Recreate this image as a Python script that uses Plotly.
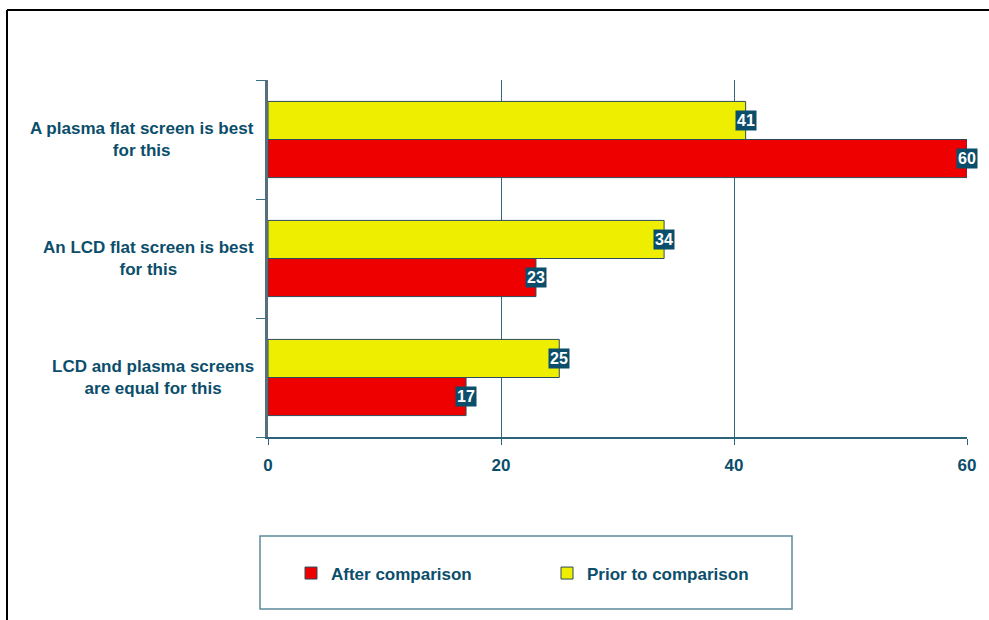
import plotly.graph_objects as go

# ---- data (top-to-bottom as shown in the chart) ----
categories = [
    "A plasma flat screen is best<br>for this",
    "An LCD flat screen is best<br>for this",
    "LCD and plasma screens<br>are equal for this",
]
after_comparison = [60, 23, 17]
prior_to_comparison = [41, 34, 25]
x_ticks = [0, 20, 40, 60]
series_names = ["After comparison", "Prior to comparison"]

# ---- layout geometry (pixels) ----
W, H = 989, 620
L, R, T, B = 268, 967, 80, 437
TEXT = "#0B4E6B"
FONT = "Liberation Sans, Arial, sans-serif"


def px_x(px):
    return (px - L) / (R - L)


def px_y(py):
    return (B - py) / (B - T)


cats = categories[::-1]
after = after_comparison[::-1]
prior = prior_to_comparison[::-1]

BARGAP = 0.36
bw = (1 - BARGAP) / 2

fig = go.Figure()
fig.add_trace(go.Bar(
    y=cats, x=after, orientation="h", name=series_names[0],
    marker=dict(color="#EE0000", line=dict(color="#2E4A5A", width=1)),
))
fig.add_trace(go.Bar(
    y=cats, x=prior, orientation="h", name=series_names[1],
    marker=dict(color="#EEEE00", line=dict(color="#2E4A5A", width=1)),
))

annotations = []
# data labels
for i, (a, p) in enumerate(zip(after, prior)):
    for val, off in ((a, -bw / 2), (p, bw / 2)):
        annotations.append(dict(
            x=val, y=i + off, xref="x", yref="y", text=str(val),
            showarrow=False, xanchor="center", yanchor="middle",
            font=dict(family=FONT, size=16, color="white", weight="bold"),
            bgcolor=TEXT, borderpad=1,
        ))
# category labels (centered multi-line)
for c in cats:
    annotations.append(dict(
        x=px_x(256), y=c, xref="paper", yref="y", text=c,
        showarrow=False, xanchor="right", yanchor="middle", align="center",
        font=dict(family=FONT, size=17, color=TEXT, weight="bold"),
    ))

shapes = [
    # outer black frame (top and left edges visible)
    dict(type="line", xref="paper", yref="paper",
         x0=px_x(7), x1=px_x(1000), y0=px_y(10), y1=px_y(10),
         line=dict(color="black", width=2)),
    dict(type="line", xref="paper", yref="paper",
         x0=px_x(7), x1=px_x(7), y0=px_y(10), y1=px_y(630),
         line=dict(color="black", width=2)),
    # legend box
    dict(type="rect", xref="paper", yref="paper",
         x0=px_x(260), x1=px_x(792), y0=px_y(536), y1=px_y(609),
         line=dict(color="#5B8A9A", width=1.5), fillcolor="rgba(0,0,0,0)"),
]

fig.update_layout(
    width=W, height=H,
    margin=dict(l=L, r=W - R, t=T, b=H - B, pad=0),
    paper_bgcolor="white", plot_bgcolor="white",
    barmode="group", bargap=BARGAP, bargroupgap=0,
    font=dict(family=FONT, color=TEXT, size=17),
    hovermode=False,
    showlegend=True,
    legend=dict(
        orientation="h", x=px_x(291), y=px_y(573.5),
        xanchor="left", yanchor="middle",
        font=dict(family=FONT, size=17, color=TEXT, weight="bold"),
        entrywidth=211, entrywidthmode="pixels",
        bgcolor="rgba(0,0,0,0)", borderwidth=0,
        traceorder="normal",
    ),
    annotations=annotations,
    shapes=shapes,
    xaxis=dict(
        range=[0, 60], tickvals=x_ticks, ticktext=[str(v) for v in x_ticks],
        showgrid=True, gridcolor="#37687A", gridwidth=1,
        zeroline=False, showline=True, linecolor="#2B6378", linewidth=1.5,
        ticks="outside", ticklen=6, tickcolor="#2B6378",
        tickfont=dict(family=FONT, size=17, color=TEXT, weight="bold"),
        ticklabelstandoff=6, fixedrange=True,
    ),
    yaxis=dict(
        type="category", categoryorder="array", categoryarray=cats,
        showticklabels=False, showgrid=False, zeroline=False,
        showline=True, linecolor="#55707A", linewidth=3,
        ticks="outside", ticklen=9, tickcolor="#3A7085", tickson="boundaries",
        fixedrange=True,
    ),
)

fig.write_html("out.html")
